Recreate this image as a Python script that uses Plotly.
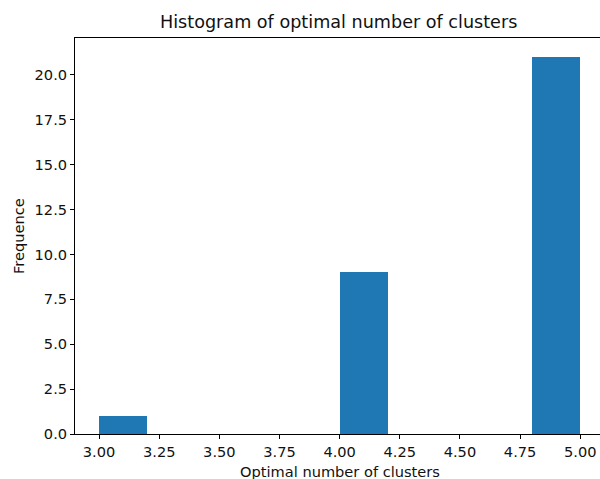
import plotly.graph_objects as go

# Histogram of the optimal number of clusters (10 bins over [3, 5])
bin_edges = [3.0, 3.2, 3.4, 3.6, 3.8, 4.0, 4.2, 4.4, 4.6, 4.8, 5.0]
counts = [1, 0, 0, 0, 0, 9, 0, 0, 0, 21]

x_ticks = [3.0, 3.25, 3.5, 3.75, 4.0, 4.25, 4.5, 4.75, 5.0]
y_ticks = [0.0, 2.5, 5.0, 7.5, 10.0, 12.5, 15.0, 17.5, 20.0]

title = "Histogram of optimal number of clusters"
x_title = "Optimal number of clusters"
y_title = "Frequence"

W, H = 600, 479
L, T, B = 75, 38, 45
FONT = "DejaVu Sans"
TXT = "#111111"
SMALL = 14.6
BIG = 17.6

lefts = bin_edges[:-1]
widths = [b - a for a, b in zip(bin_edges[:-1], bin_edges[1:])]
centers = [a + w / 2 for a, w in zip(lefts, widths)]

# axis limits with 5% margins; axes box runs slightly past the right edge of the page
x_lo = bin_edges[0] - 0.05 * (bin_edges[-1] - bin_edges[0])
x_hi_full = bin_edges[-1] + 0.05 * (bin_edges[-1] - bin_edges[0])
full_px = 529.3
x_hi = x_lo + (x_hi_full - x_lo) * (W - L) / full_px
y_hi = max(counts) * 1.05

fig = go.Figure(
    go.Bar(
        x=centers,
        y=counts,
        width=widths,
        marker=dict(color="#1f77b4", line=dict(width=0)),
        hoverinfo="x+y",
    )
)

axis_common = dict(
    showgrid=False,
    zeroline=False,
    showline=True,
    linecolor="black",
    linewidth=1,
    ticks="outside",
    ticklen=4,
    tickwidth=1,
    tickcolor="black",
    tickfont=dict(family=FONT, size=SMALL, color=TXT),
)

fig.update_layout(
    width=W,
    height=H,
    margin=dict(l=L, r=0, t=T, b=B),
    paper_bgcolor="white",
    plot_bgcolor="white",
    showlegend=False,
    bargap=0,
    xaxis=dict(
        range=[x_lo, x_hi],
        tickvals=x_ticks,
        ticktext=[f"{v:.2f}" for v in x_ticks],
        mirror=True,
        **axis_common,
    ),
    yaxis=dict(
        range=[0, y_hi],
        tickvals=y_ticks,
        ticktext=[f"{v:.1f}" for v in y_ticks],
        **axis_common,
    ),
    annotations=[
        dict(
            text=title,
            xref="paper", yref="paper",
            x=(338.5 - L) / (W - L), y=1,
            yshift=16,
            xanchor="center", yanchor="middle",
            showarrow=False,
            font=dict(family=FONT, size=BIG, color=TXT),
        ),
        dict(
            text=x_title,
            xref="paper", yref="paper",
            x=(340 - L) / (W - L), y=0,
            yshift=-37,
            xanchor="center", yanchor="middle",
            showarrow=False,
            font=dict(family=FONT, size=SMALL, color=TXT),
        ),
        dict(
            text=y_title,
            xref="paper", yref="paper",
            x=0, y=0.5,
            xshift=-(L - 18),
            xanchor="center", yanchor="middle",
            textangle=-90,
            showarrow=False,
            font=dict(family=FONT, size=SMALL, color=TXT),
        ),
    ],
)

fig.write_html("out.html")
